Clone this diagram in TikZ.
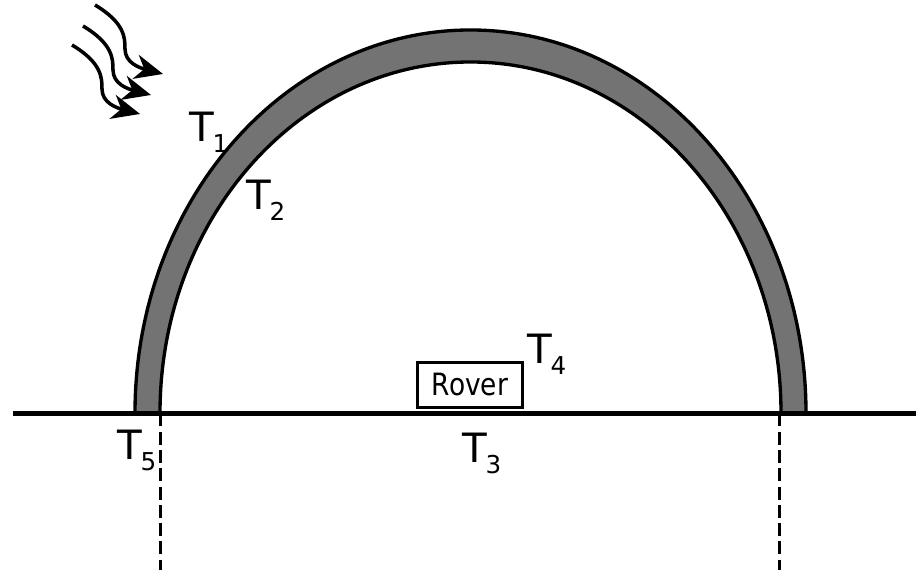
\documentclass[tikz,border=0pt]{standalone}
\usepackage{fontspec}
\setmainfont{DejaVu Sans}
\newfontfamily\roverfont[FakeStretch=0.86]{DejaVu Sans}
\usetikzlibrary{arrows.meta}

\newcommand{\templabel}[1]{T\kern-1pt\raisebox{-6pt}{\fontsize{14}{16}\selectfont #1}}
\tikzset{
  templab/.style={anchor=base west,inner sep=0pt,font=\fontsize{23}{26}\selectfont},
  roverbox/.style={draw,line width=1.9pt,fill=white,minimum width=59.5pt,minimum height=25.5pt,inner sep=0pt,font=\roverfont\fontsize{17.5}{20}\selectfont},
  heatray/.style={line width=2pt,-{Stealth[length=16pt,width=14pt,inset=5pt]}},
  cutline/.style={line width=1.7pt,dash pattern=on 7.4pt off 3pt}
}

\begin{document}
\begin{tikzpicture}[x=0.02cm,y=0.02cm,line width=1.9pt]
    \useasboundingbox (0,0) rectangle (916,573);
    % dome shell
    \draw[fill=black!55] (135,160) arc[start angle=180,end angle=0,x radius=335.5,y radius=383]
      -- (781,160) arc[start angle=0,end angle=180,x radius=310.5,y radius=351] -- cycle;
    % ground and cut lines
    \coordinate (gl) at (13,159.5);
    \coordinate (gr) at (916,159.5);
    \coordinate (cl) at (160.5,159.5);
    \coordinate (cr) at (779.5,159.5);
    \draw[line width=2.3pt] (gl) -- (gr);
    \draw[cutline] (cl) -- (160.5,3);
    \draw[cutline] (cr) -- (779.5,3);
    % incoming rays
    \foreach \px/\py in {0/0,-12/-21,-23/-40}
      \draw[heatray] (95+\px,568+\py) .. controls (125+\px,550+\py) and (125+\px,535+\py) .. (125+\px,524+\py)
        .. controls (125+\px,510+\py) and (140+\px,505+\py) .. (163+\px,499+\py);
    \node[roverbox] (rover) at (470,188) {Rover};
    \node[templab] (t1) at (188,431) {\templabel{1}};
    \node[templab] (t2) at (245,363) {\templabel{2}};
    \node[templab] (t3) at (461,110) {\templabel{3}};
    \node[templab] (t4) at (526,209) {\templabel{4}};
    \node[templab] (t5) at (116,113) {\templabel{5}};
\end{tikzpicture}
\end{document}
